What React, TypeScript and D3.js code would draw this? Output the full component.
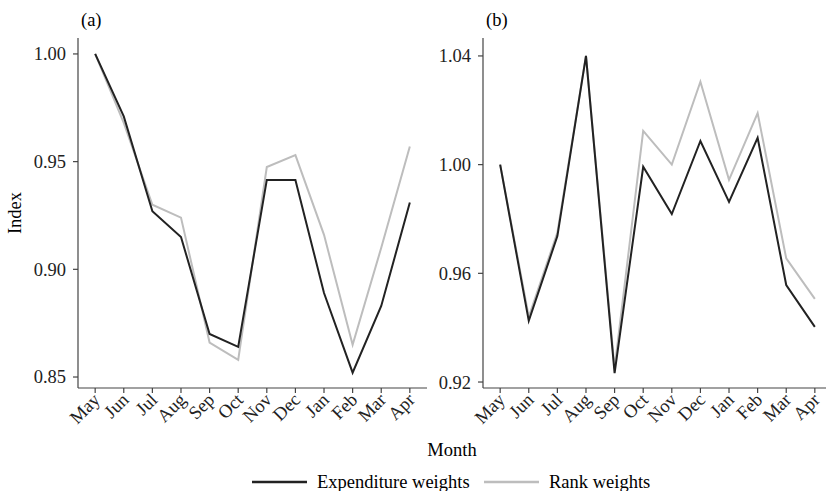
import React from 'react'
import * as d3 from 'd3'

const months = ['May', 'Jun', 'Jul', 'Aug', 'Sep', 'Oct', 'Nov', 'Dec', 'Jan', 'Feb', 'Mar', 'Apr']

// panel (a)
const expenditureA = [1.0, 0.971, 0.927, 0.915, 0.87, 0.864, 0.9415, 0.9415, 0.889, 0.852, 0.883, 0.931]
const rankA = [1.0, 0.968, 0.93, 0.924, 0.866, 0.858, 0.9475, 0.953, 0.916, 0.865, 0.91, 0.957]
const ticksA = [0.85, 0.9, 0.95, 1.0]

// panel (b)
const expenditureB = [1.0, 0.9425, 0.9737, 1.04, 0.9233, 0.9992, 0.9818, 1.0087, 0.9863, 1.0099, 0.9557, 0.9403]
const rankB = [1.0, 0.944, 0.975, 1.04, 0.925, 1.0124, 1.0, 1.0305, 0.9944, 1.019, 0.9655, 0.9506]
const ticksB = [0.92, 0.96, 1.0, 1.04]

const seriesNames = ['Expenditure weights', 'Rank weights']
const seriesColors = ['#222222', '#bdbdbd']

const W = 826
const H = 491
const top = 38
const bottom = 388
const fs = 18.5
const font = '"Liberation Serif", "Times New Roman", serif'

type PanelProps = {
  label: string
  left: number
  domain: [number, number]
  ticks: number[]
  series: number[][]
}

function Panel({ label, left, domain, ticks, series }: PanelProps) {
  const x = d3.scalePoint<string>().domain(months).range([left, left + 349]).padding(0.6)
  const y = d3.scaleLinear().domain(domain).range([bottom, top])
  const line = d3.line<number>()
    .x((_, i) => x(months[i]) as number)
    .y(d => y(d))

  return (
    <g>
      <text x={left + 3} y={26} fontSize={fs}>{label}</text>
      {/* gray first so black sits on top */}
      {[1, 0].map(k => (
        <path key={k} d={line(series[k]) as string} fill="none" stroke={seriesColors[k]}
          strokeWidth={2} />
      ))}
      <line x1={left} x2={left} y1={top} y2={bottom} stroke="#444" strokeWidth={1.2} />
      <line x1={left} x2={left + 349} y1={bottom} y2={bottom} stroke="#444" strokeWidth={1.2} />
      {ticks.map(t => (
        <g key={t} transform={`translate(${left},${y(t)})`}>
          <line x1={-5} x2={0} stroke="#444" strokeWidth={1.2} />
          <text x={-12} dy="0.35em" textAnchor="end" fontSize={fs} fill="#222">
            {d3.format('.2f')(t)}
          </text>
        </g>
      ))}
      {months.map(m => (
        <g key={m} transform={`translate(${x(m)},${bottom})`}>
          <line y1={0} y2={5} stroke="#444" strokeWidth={1.2} />
          <text transform="translate(6,13) rotate(-45)" textAnchor="end" fontSize={fs} fill="#222">{m}</text>
        </g>
      ))}
    </g>
  )
}

export default function App() {
  return (
    <svg width={W} height={H} style={{ position: 'absolute', left: 0, top: 0, background: '#fff' }}
      fontFamily={font}>
      <Panel label="(a)" left={78} domain={[0.8449, 1.0074]} ticks={ticksA} series={[expenditureA, rankA]} />
      <Panel label="(b)" left={483} domain={[0.9178, 1.0466]} ticks={ticksB} series={[expenditureB, rankB]} />
      <text transform="translate(21,213) rotate(-90)" textAnchor="middle" fontSize={fs}>Index</text>
      <text x={452} y={456} textAnchor="middle" fontSize={fs}>Month</text>
      <g transform="translate(0,482)">
        <line x1={252} x2={307} stroke={seriesColors[0]} strokeWidth={2.5} />
        <text x={317} dy="0.35em" fontSize={fs}>{seriesNames[0]}</text>
        <line x1={484} x2={539} stroke={seriesColors[1]} strokeWidth={2.5} />
        <text x={549} dy="0.35em" fontSize={fs}>{seriesNames[1]}</text>
      </g>
    </svg>
  )
}
